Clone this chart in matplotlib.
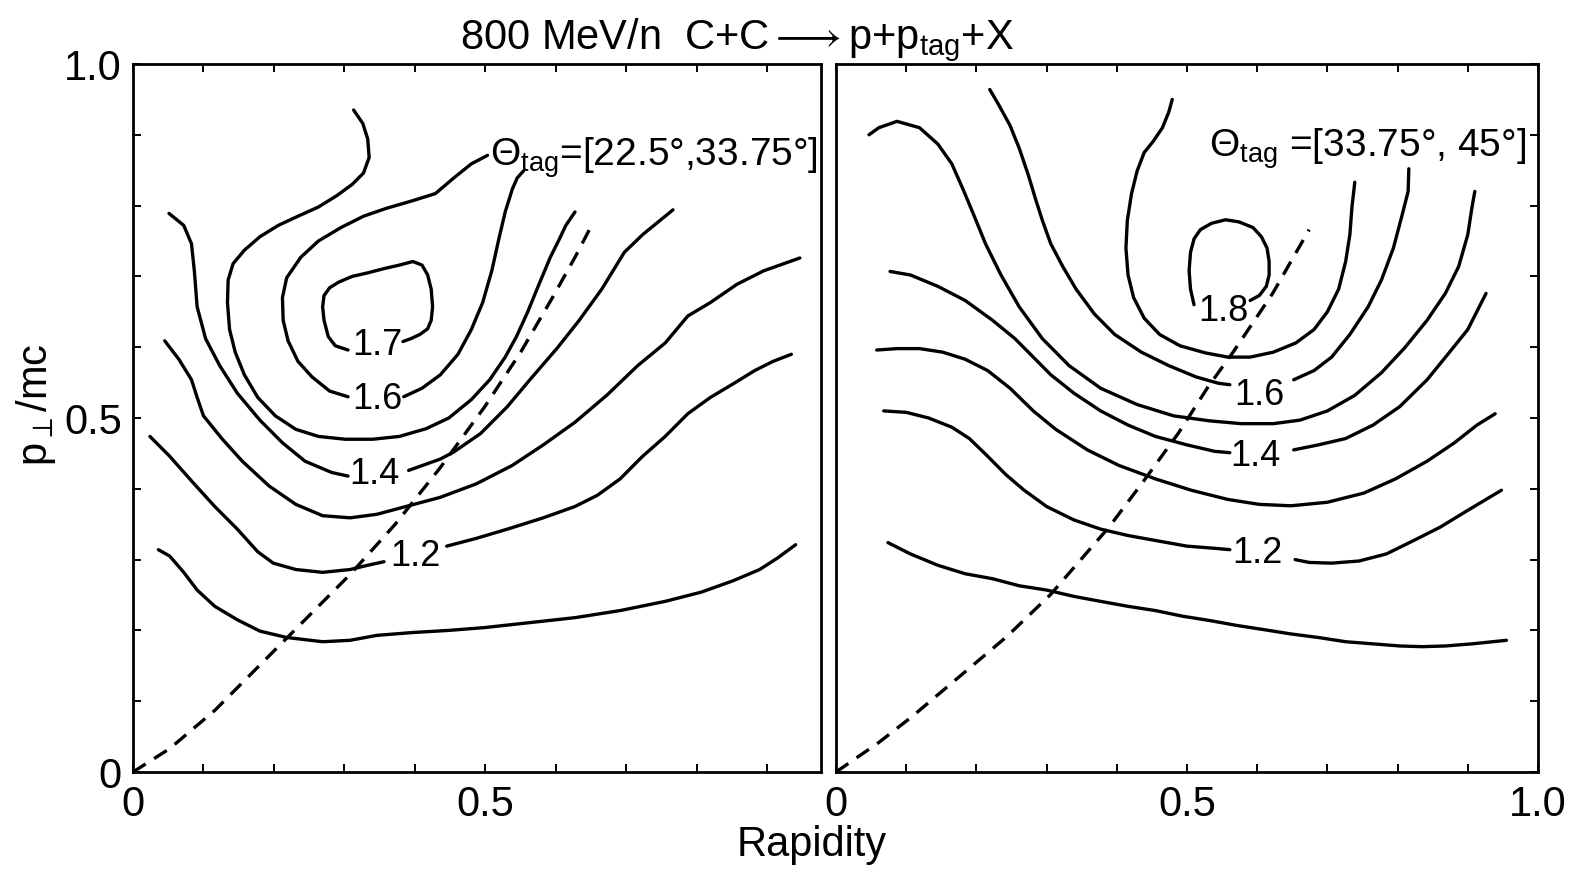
import matplotlib
matplotlib.use("Agg")
import matplotlib.pyplot as plt

plt.rcParams['font.family'] = ['Liberation Sans', 'DejaVu Sans']
plt.rcParams['mathtext.fontset'] = 'custom'
plt.rcParams['mathtext.rm'] = 'Liberation Sans'
plt.rcParams['mathtext.it'] = 'Liberation Sans'
plt.rcParams['mathtext.sf'] = 'Liberation Sans'
plt.rcParams['mathtext.default'] = 'regular'

# ---------------- data : left panel  (Theta_tag = [22.5, 33.75]) ----------------
L11_x = [0.036,0.052,0.072,0.091,0.116,0.148,0.180,0.218,0.269,0.308,0.346,0.397,0.448,0.499,0.563,0.627,0.691,0.755,0.806,0.851,0.889,0.914,0.940]
L11_y = [0.314,0.305,0.282,0.257,0.234,0.215,0.199,0.190,0.184,0.186,0.193,0.197,0.200,0.204,0.211,0.218,0.228,0.241,0.254,0.270,0.286,0.302,0.321]

L12a_x = [0.024,0.052,0.084,0.116,0.148,0.177,0.199,0.231,0.269,0.308,0.333,0.356]
L12a_y = [0.474,0.446,0.410,0.375,0.343,0.311,0.295,0.286,0.282,0.286,0.292,0.297]
L12b_x = [0.445,0.487,0.531,0.582,0.627,0.659,0.691,0.723,0.755,0.787,0.819,0.851,0.882,0.908,0.934]
L12b_y = [0.319,0.330,0.343,0.359,0.375,0.391,0.414,0.446,0.474,0.506,0.529,0.548,0.567,0.580,0.590]

L13_x = [0.045,0.065,0.083,0.091,0.100,0.126,0.155,0.193,0.231,0.269,0.308,0.346,0.391,0.436,0.487,0.538,0.582,0.627,0.672,0.716,0.755,0.787,0.819,0.857,0.895,0.946]
L13_y = [0.609,0.583,0.554,0.529,0.503,0.471,0.439,0.404,0.378,0.362,0.359,0.364,0.376,0.388,0.407,0.433,0.462,0.494,0.532,0.574,0.606,0.644,0.663,0.689,0.708,0.726]

L14a_x = [0.051,0.072,0.083,0.087,0.091,0.103,0.123,0.148,0.180,0.212,0.244,0.282,0.305]
L14a_y = [0.789,0.772,0.746,0.708,0.657,0.612,0.574,0.535,0.497,0.465,0.439,0.423,0.418]
L14b_x = [0.391,0.436,0.455,0.493,0.531,0.563,0.602,0.633,0.665,0.697,0.723,0.766]
L14b_y = [0.426,0.442,0.452,0.478,0.516,0.554,0.599,0.638,0.682,0.734,0.759,0.794]

L15_x = [0.313,0.326,0.333,0.335,0.327,0.311,0.289,0.263,0.234,0.206,0.180,0.158,0.142,0.135,0.134,0.137,0.145,0.158,0.177,0.202,0.231,0.263,0.301,0.340,0.378,0.416,0.448,0.480,0.506,0.528,0.544,0.560,0.576,0.592,0.605,0.614,0.627]
L15_y = [0.935,0.916,0.894,0.868,0.846,0.830,0.814,0.798,0.785,0.772,0.756,0.737,0.718,0.695,0.663,0.625,0.593,0.561,0.529,0.503,0.484,0.474,0.470,0.470,0.474,0.485,0.500,0.526,0.554,0.586,0.615,0.650,0.689,0.727,0.753,0.772,0.791]

L16a_x = [0.503,0.480,0.455,0.429,0.397,0.359,0.327,0.295,0.263,0.238,0.218,0.212,0.213,0.220,0.234,0.254,0.279,0.305]
L16a_y = [0.871,0.859,0.839,0.817,0.807,0.796,0.785,0.769,0.750,0.727,0.698,0.670,0.638,0.609,0.580,0.558,0.538,0.530]
L16b_x = [0.384,0.410,0.436,0.461,0.480,0.496,0.509,0.519,0.528,0.538,0.545,0.554]
L16b_y = [0.530,0.542,0.561,0.590,0.625,0.663,0.708,0.753,0.791,0.823,0.839,0.849]

L17_x = [0.305,0.287,0.277,0.271,0.269,0.271,0.279,0.292,0.311,0.333,0.356,0.378,0.397,0.410,0.418,0.423,0.425,0.423,0.418,0.407,0.394,0.383]
L17_y = [0.596,0.602,0.615,0.638,0.657,0.673,0.684,0.692,0.700,0.705,0.711,0.716,0.721,0.716,0.702,0.682,0.657,0.638,0.626,0.618,0.612,0.608]

LD_x = [0.0,0.052,0.116,0.180,0.244,0.308,0.372,0.436,0.499,0.550,0.595,0.627,0.649]
LD_y = [0.0,0.033,0.087,0.151,0.215,0.279,0.350,0.430,0.516,0.593,0.670,0.727,0.769]

L_lab_text = ["1.7", "1.6", "1.4", "1.2"]
L_lab_x = [0.346, 0.346, 0.343, 0.400]
L_lab_y = [0.602, 0.526, 0.420, 0.305]

# ---------------- data : right panel (Theta_tag = [33.75, 45]) ----------------
R11_x = [0.074,0.106,0.145,0.184,0.223,0.261,0.300,0.339,0.377,0.416,0.455,0.494,0.532,0.571,0.610,0.648,0.687,0.726,0.765,0.803,0.835,0.868,0.906,0.955]
R11_y = [0.324,0.308,0.292,0.280,0.273,0.263,0.257,0.248,0.241,0.234,0.228,0.220,0.214,0.207,0.201,0.195,0.190,0.184,0.181,0.178,0.177,0.178,0.181,0.186]

R12a_x = [0.068,0.100,0.132,0.165,0.190,0.216,0.242,0.268,0.300,0.339,0.377,0.416,0.455,0.500,0.539,0.561]
R12a_y = [0.510,0.508,0.500,0.487,0.471,0.446,0.420,0.398,0.375,0.356,0.343,0.334,0.327,0.319,0.316,0.314]
R12b_x = [0.654,0.674,0.706,0.745,0.784,0.823,0.861,0.894,0.926,0.948]
R12b_y = [0.300,0.296,0.295,0.298,0.308,0.327,0.346,0.366,0.385,0.398]

R13_x = [0.058,0.087,0.119,0.152,0.184,0.216,0.248,0.281,0.313,0.358,0.403,0.455,0.506,0.558,0.603,0.648,0.700,0.752,0.797,0.842,0.881,0.913,0.939]
R13_y = [0.596,0.598,0.598,0.593,0.583,0.567,0.542,0.510,0.484,0.455,0.433,0.414,0.398,0.385,0.378,0.376,0.381,0.394,0.414,0.439,0.465,0.490,0.506]

R14a_x = [0.077,0.106,0.145,0.184,0.223,0.255,0.281,0.306,0.339,0.377,0.416,0.455,0.500,0.539,0.561]
R14a_y = [0.707,0.702,0.686,0.666,0.638,0.612,0.586,0.561,0.535,0.510,0.490,0.474,0.462,0.453,0.451]
R14b_x = [0.652,0.687,0.726,0.765,0.803,0.842,0.874,0.900,0.926]
R14b_y = [0.455,0.462,0.471,0.490,0.516,0.554,0.593,0.625,0.676]

R15_x = [0.047,0.061,0.087,0.119,0.145,0.165,0.181,0.197,0.213,0.235,0.261,0.294,0.332,0.377,0.429,0.481,0.532,0.577,0.623,0.661,0.700,0.739,0.777,0.810,0.842,0.868,0.887,0.900,0.906,0.910]
R15_y = [0.900,0.910,0.919,0.910,0.887,0.859,0.823,0.785,0.746,0.702,0.657,0.612,0.574,0.542,0.519,0.503,0.496,0.492,0.492,0.497,0.510,0.532,0.564,0.599,0.638,0.676,0.714,0.759,0.798,0.820]

R16a_x = [0.219,0.232,0.248,0.261,0.274,0.284,0.294,0.306,0.323,0.342,0.368,0.397,0.435,0.474,0.513,0.545,0.561]
R16a_y = [0.964,0.942,0.913,0.881,0.843,0.810,0.779,0.746,0.714,0.682,0.647,0.618,0.593,0.574,0.558,0.549,0.547]
R16b_x = [0.652,0.681,0.706,0.732,0.758,0.777,0.794,0.806,0.815,0.816]
R16b_y = [0.554,0.567,0.586,0.618,0.657,0.695,0.740,0.785,0.820,0.852]

R17_x = [0.479,0.474,0.465,0.452,0.439,0.429,0.421,0.415,0.413,0.416,0.424,0.439,0.461,0.490,0.526,0.558,0.590,0.623,0.655,0.681,0.700,0.716,0.726,0.732,0.735,0.739]
R17_y = [0.950,0.932,0.910,0.891,0.875,0.849,0.817,0.779,0.740,0.702,0.670,0.641,0.618,0.602,0.592,0.586,0.586,0.593,0.606,0.625,0.650,0.682,0.721,0.759,0.798,0.833]

R18_x = [0.510,0.505,0.503,0.505,0.510,0.519,0.535,0.555,0.574,0.594,0.606,0.614,0.617,0.617,0.613,0.603,0.590]
R18_y = [0.660,0.682,0.708,0.734,0.753,0.766,0.775,0.780,0.777,0.769,0.756,0.740,0.721,0.702,0.686,0.673,0.666]

RD_x = [0.0,0.060,0.108,0.243,0.305,0.389,0.439,0.488,0.530,0.565,0.622,0.674]
RD_y = [0.0,0.041,0.078,0.191,0.250,0.346,0.412,0.479,0.544,0.592,0.676,0.766]

R_lab_text = ["1.8", "1.6", "1.4", "1.2"]
R_lab_x = [0.552, 0.603, 0.597, 0.600]
R_lab_y = [0.650, 0.532, 0.446, 0.308]

major_ticks = [0.0, 0.5, 1.0]
major_labels = ["0", "0.5", "1.0"]
minor_ticks = [0.1, 0.2, 0.3, 0.4, 0.6, 0.7, 0.8, 0.9]

title_text = r"800 MeV/n  C+C$\longrightarrow$p+p$_{\rm tag}$+X"
left_theta = r"$\Theta_{\rm tag}$=[22.5°,33.75°]"
right_theta = r"$\Theta_{\rm tag}$ =[33.75°, 45°]"

# ---------------- figure ----------------
W, H = 1572, 872
fig = plt.figure(figsize=(W / 100, H / 100), dpi=100)
axL = fig.add_axes([133 / W, 1 - 772 / H, (821 - 133) / W, (772 - 64) / H])
axR = fig.add_axes([836 / W, 1 - 772 / H, (1538 - 836) / W, (772 - 64) / H])

LW = 2.4
solid_kw = dict(color="black", lw=LW, solid_capstyle="round", solid_joinstyle="round")
dash_kw = dict(color="black", lw=LW, dashes=(4.5, 3.0), dash_capstyle="butt")

left_curves = [(L11_x, L11_y), (L12a_x, L12a_y), (L12b_x, L12b_y), (L13_x, L13_y),
               (L14a_x, L14a_y), (L14b_x, L14b_y), (L15_x, L15_y),
               (L16a_x, L16a_y), (L16b_x, L16b_y), (L17_x, L17_y)]
right_curves = [(R11_x, R11_y), (R12a_x, R12a_y), (R12b_x, R12b_y), (R13_x, R13_y),
                (R14a_x, R14a_y), (R14b_x, R14b_y), (R15_x, R15_y),
                (R16a_x, R16a_y), (R16b_x, R16b_y), (R17_x, R17_y), (R18_x, R18_y)]

for xs, ys in left_curves:
    axL.plot(xs, ys, **solid_kw)
axL.plot(LD_x, LD_y, **dash_kw)
for t, x, y in zip(L_lab_text, L_lab_x, L_lab_y):
    axL.text(x, y, t, fontsize=26, ha="center", va="center")

for xs, ys in right_curves:
    axR.plot(xs, ys, **solid_kw)
axR.plot(RD_x, RD_y, **dash_kw)
for t, x, y in zip(R_lab_text, R_lab_x, R_lab_y):
    axR.text(x, y, t, fontsize=26, ha="center", va="center")

axL.text(0.507, 0.857, left_theta, fontsize=28, ha="left", va="baseline")
axR.text(0.531, 0.869, right_theta, fontsize=28, ha="left", va="baseline")

for ax, xmax in ((axL, 0.976), (axR, 1.0)):
    ax.set_xlim(0, xmax)
    ax.set_ylim(0, 1)
    for s in ax.spines.values():
        s.set_linewidth(2.0)
    ax.set_yticks(major_ticks)
    ax.set_yticks(minor_ticks, minor=True)
    ax.tick_params(which="both", direction="in", length=6, width=1.4,
                   labelsize=30, top=True)

axL.set_xticks(major_ticks[:2])
axL.set_xticklabels(major_labels[:2])
axL.set_xticks(minor_ticks, minor=True)
axL.set_yticklabels(major_labels)
axL.tick_params(axis="x", pad=9)
axL.tick_params(axis="y", pad=8)
axL.tick_params(which="both", right=False)

axR.set_xticks(major_ticks)
axR.set_xticklabels(major_labels)
axR.set_xticks(minor_ticks, minor=True)
axR.tick_params(axis="x", pad=9)
axR.tick_params(which="both", left=False, right=True, labelleft=False)

fig.text(737 / W, 1 - 40 / H, title_text, fontsize=30, ha="center", va="center")
fig.text(812 / W, 1 - 845 / H, "Rapidity", fontsize=30, ha="center", va="center")
fig.text(36 / W, 1 - 405 / H, r"p$_{\perp}$/mc", fontsize=30, rotation=90,
         ha="center", va="center")

fig.savefig("out.png", dpi=100)
